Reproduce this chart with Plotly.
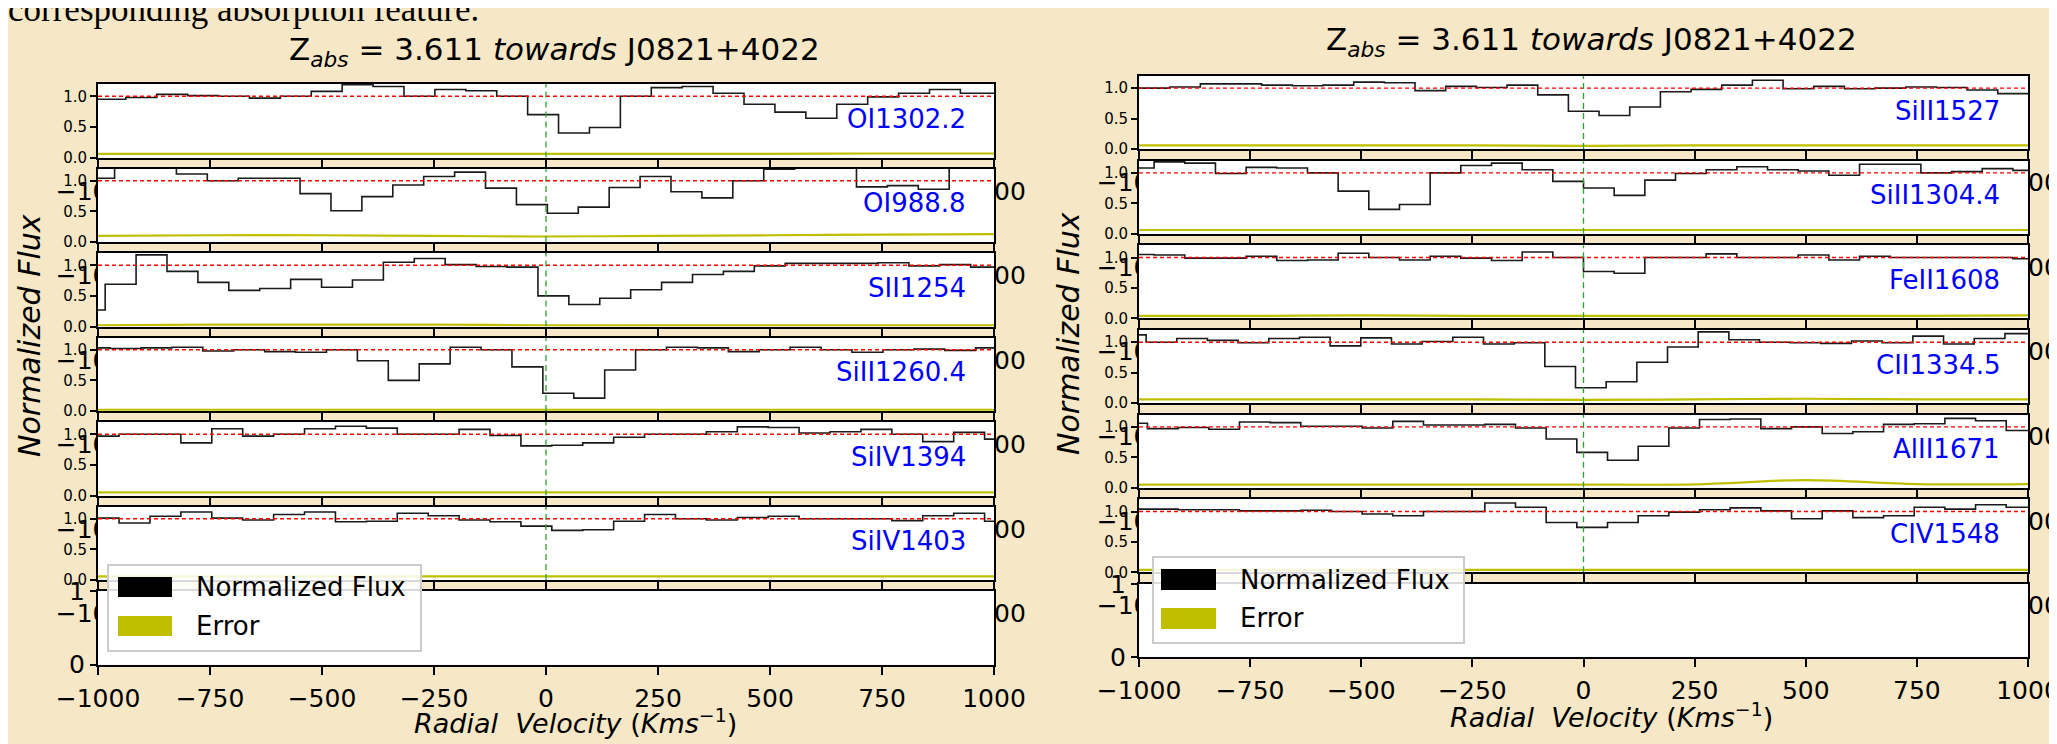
import plotly.graph_objects as go

W, H = 2057, 744
BG = "#f6e8c6"
FONT = "DejaVu Sans"
MINUS = "\u2212"

# ---------------- data ----------------
PIXEL_KMS = 69.0  # velocity width of one spectral pixel (km/s)

LEFT_LINES = ["OI1302.2", "OI988.8", "SII1254", "SiII1260.4", "SiIV1394", "SiIV1403"]
RIGHT_LINES = ["SiII1527", "SiII1304.4", "FeII1608", "CII1334.5", "AlII1671", "CIV1548"]

# velocity (km/s) of the first pixel edge in each panel
LEFT_FIRST_EDGE = [-1007, -1032, -1053, -1042, -1022, -1022]
RIGHT_FIRST_EDGE = [-1069, -1035, -1035, -1053, -1050, -1050]

flux_OI1302 = [0.95, 0.98, 1.03, 1.01, 1.00, 0.97, 1.00, 1.08, 1.19, 1.16, 1.00, 1.11, 1.09, 1.00, 0.70,
               0.40, 0.49, 1.00, 1.14, 1.16, 1.05, 0.87, 0.74, 0.64, 0.87, 0.99, 1.05, 1.11, 1.05, 1.05]
flux_OI988 = [1.04, 1.30, 1.30, 1.11, 1.00, 1.04, 1.04, 0.79, 0.51, 0.74, 0.93, 1.07, 1.14, 0.88, 0.61,
              0.47, 0.57, 0.89, 1.07, 0.82, 0.72, 1.00, 1.19, 1.30, 1.30, 0.90, 0.92, 0.86, 1.30, 1.30]
flux_SII1254 = [0.27, 0.69, 1.17, 0.90, 0.72, 0.59, 0.62, 0.77, 0.64, 0.76, 1.05, 1.11, 1.01, 0.98, 0.97,
                0.50, 0.36, 0.46, 0.60, 0.72, 0.85, 0.90, 0.99, 1.03, 1.03, 1.03, 1.04, 0.99, 1.01, 0.97]
flux_SiII1260 = [1.03, 1.02, 1.03, 1.04, 0.98, 1.00, 0.97, 0.96, 1.00, 0.82, 0.50, 0.77, 1.04, 1.00, 0.72,
                 0.29, 0.21, 0.67, 1.00, 1.04, 1.03, 0.97, 1.00, 1.04, 1.00, 0.96, 1.00, 1.01, 0.99, 1.03]
flux_SiIV1394 = [0.97, 1.00, 1.00, 0.86, 1.09, 0.97, 1.00, 1.09, 1.13, 1.10, 1.00, 1.00, 1.08, 0.98, 0.81,
                 0.82, 0.86, 0.95, 1.00, 1.00, 1.04, 1.12, 1.11, 1.02, 1.04, 1.08, 1.00, 0.88, 1.03, 0.92]
flux_SiIV1403 = [1.01, 0.93, 1.04, 1.11, 1.01, 0.98, 1.07, 1.11, 0.95, 0.96, 1.09, 1.05, 0.98, 0.95, 0.88,
                 0.81, 0.82, 0.96, 1.07, 1.00, 0.98, 1.02, 1.04, 1.00, 1.00, 1.00, 0.97, 1.05, 1.09, 0.96]

flux_SiII1527 = [1.00, 1.00, 1.02, 1.07, 1.07, 1.05, 1.04, 1.05, 1.10, 1.09, 0.96, 1.03, 1.01, 1.05, 0.89,
                 0.62, 0.55, 0.69, 0.94, 0.98, 1.05, 1.13, 0.99, 1.03, 0.99, 1.00, 1.02, 1.01, 0.97, 0.91, 0.91]
flux_SiII1304 = [1.08, 1.18, 1.16, 0.99, 1.09, 1.08, 1.00, 0.70, 0.40, 0.48, 1.00, 1.12, 1.16, 1.05, 0.86,
                 0.75, 0.63, 0.88, 0.99, 1.05, 1.10, 1.05, 1.03, 0.96, 1.14, 1.14, 1.00, 1.02, 1.07, 1.04]
flux_FeII1608 = [1.05, 1.04, 0.99, 0.99, 1.02, 0.95, 0.96, 1.07, 1.00, 0.96, 1.02, 0.99, 0.95, 1.09, 1.00,
                 0.77, 0.74, 1.00, 1.00, 1.06, 1.00, 1.00, 1.04, 0.96, 1.02, 1.00, 1.00, 1.00, 1.00, 0.98]
flux_CII1334 = [1.12, 1.00, 1.06, 1.03, 0.99, 1.06, 1.08, 0.94, 1.07, 0.97, 1.01, 1.08, 0.97, 0.99, 0.60,
                0.25, 0.35, 0.67, 0.92, 1.17, 1.04, 1.00, 0.99, 0.98, 1.02, 0.99, 1.10, 0.97, 1.06, 1.14]
flux_AlII1671 = [1.06, 0.97, 0.99, 0.96, 1.08, 1.07, 1.01, 1.01, 0.98, 1.09, 1.03, 1.03, 1.04, 0.98, 0.80,
                 0.58, 0.45, 0.68, 0.98, 1.12, 1.13, 0.97, 1.00, 0.89, 0.92, 1.04, 1.05, 1.14, 1.10, 0.94]
flux_CIV1548 = [1.04, 1.04, 1.03, 1.03, 1.01, 1.01, 1.02, 1.00, 0.96, 0.93, 1.00, 1.00, 1.14, 1.07, 0.82,
                0.74, 0.82, 0.93, 0.99, 1.03, 1.06, 1.01, 0.88, 1.01, 0.90, 0.93, 1.07, 1.04, 1.11, 1.07]

ERR_V = [-1000, -750, -500, -250, 0, 250, 500, 750, 1000]
err_OI1302 = [0.06, 0.06, 0.06, 0.06, 0.06, 0.06, 0.06, 0.065, 0.065]
err_OI988 = [0.10, 0.11, 0.11, 0.10, 0.09, 0.10, 0.11, 0.12, 0.13]
err_SII1254 = [0.02, 0.03, 0.03, 0.03, 0.02, 0.02, 0.02, 0.02, 0.02]
err_SiII1260 = [0.02, 0.02, 0.02, 0.02, 0.02, 0.02, 0.02, 0.02, 0.02]
err_SiIV1394 = [0.05, 0.05, 0.05, 0.05, 0.05, 0.05, 0.05, 0.05, 0.05]
err_SiIV1403 = [0.06, 0.06, 0.06, 0.06, 0.06, 0.06, 0.06, 0.06, 0.06]
err_SiII1527 = [0.06, 0.06, 0.06, 0.06, 0.05, 0.06, 0.06, 0.06, 0.06]
err_SiII1304 = [0.06, 0.06, 0.06, 0.06, 0.06, 0.06, 0.06, 0.06, 0.06]
err_FeII1608 = [0.04, 0.04, 0.05, 0.04, 0.04, 0.04, 0.04, 0.04, 0.05]
err_CII1334 = [0.06, 0.06, 0.06, 0.06, 0.05, 0.06, 0.07, 0.06, 0.06]
err_AlII1671 = [0.05, 0.05, 0.05, 0.05, 0.05, 0.055, 0.125, 0.06, 0.06]
err_CIV1548 = [0.04, 0.04, 0.04, 0.04, 0.04, 0.04, 0.04, 0.04, 0.04]

LEFT_FLUX = [flux_OI1302, flux_OI988, flux_SII1254, flux_SiII1260, flux_SiIV1394, flux_SiIV1403]
RIGHT_FLUX = [flux_SiII1527, flux_SiII1304, flux_FeII1608, flux_CII1334, flux_AlII1671, flux_CIV1548]
LEFT_ERR = [err_OI1302, err_OI988, err_SII1254, err_SiII1260, err_SiIV1394, err_SiIV1403]
RIGHT_ERR = [err_SiII1527, err_SiII1304, err_FeII1608, err_CII1334, err_AlII1671, err_CIV1548]

TICK_V = [-1000, -750, -500, -250, 0, 250, 500, 750, 1000]
TICK_TXT = [MINUS + "1000", MINUS + "750", MINUS + "500", MINUS + "250", "0", "250", "500", "750", "1000"]

TITLE = "Z<sub><i>abs</i></sub> = 3.611 <i>towards</i> J0821+4022"
XLABEL = "<i>Radial  Velocity</i> (<i>Kms</i><sup>" + MINUS + "1</sup>)"
YLABEL = "<i>Normalized Flux</i>"

# ---------------- layout geometry ----------------
def px(x):
    return x / W


def py(y):
    return 1 - y / H


COLUMNS = [
    dict(ids=[1, 2, 3, 4, 5, 6, 7], x0=90, x1=986, top0=76, pitch=84.5, h=73.5,
         lines=LEFT_LINES, edge0=LEFT_FIRST_EDGE, flux=LEFT_FLUX, err=LEFT_ERR,
         title=(546, 44), xlab=(567, 713), ylab=(21, 328),
         legend=dict(box=(100, 557, 413, 643), p1=(110, 569, 164, 589), p2=(110, 608, 164, 628),
                     tx=186, ty=(579, 618))),
    dict(ids=[10, 11, 12, 13, 14, 15, 16], x0=1131, x1=2020, top0=68, pitch=84.67, h=73,
         lines=RIGHT_LINES, edge0=RIGHT_FIRST_EDGE, flux=RIGHT_FLUX, err=RIGHT_ERR,
         title=(1583, 34), xlab=(1603, 707), ylab=(1060, 326),
         legend=dict(box=(1145, 549, 1456, 635), p1=(1153, 561, 1208, 582), p2=(1153, 600, 1208, 621),
                     tx=1230, ty=(572, 610))),
]


def aref(n, kind):
    return kind if n == 1 else f"{kind}{n}"


def aname(n, kind):
    return f"{kind}axis" if n == 1 else f"{kind}axis{n}"


fig = go.Figure()
layout_axes = {}
shapes = []
annotations = []

BLACK = "black"
ERR_COLOR = "#bfbf00"

for col in COLUMNS:
    for k, n in enumerate(col["ids"]):
        top = col["top0"] + col["pitch"] * k
        bottom = top + col["h"]
        empty = (k == 6)
        xr, yr = aref(n, "x"), aref(n, "y")
        yrange = [0, 1] if empty else [0, 1.2]

        layout_axes[aname(n, "x")] = dict(
            domain=[px(col["x0"]), px(col["x1"])], range=[-1000, 1000], anchor=yr,
            tickmode="array", tickvals=TICK_V, ticktext=TICK_TXT,
            ticks="outside", ticklen=8, tickwidth=1.5, tickcolor=BLACK,
            showline=True, linecolor=BLACK, linewidth=2, mirror=True,
            showgrid=False, zeroline=False, ticklabeloverflow="allow",
            ticklabelstandoff=2, automargin=False,
            tickfont=dict(family=FONT, size=25, color=BLACK), fixedrange=True,
        )
        layout_axes[aname(n, "y")] = dict(
            domain=[py(bottom), py(top)], range=yrange, anchor=xr,
            tickmode="array",
            tickvals=[0, 1] if empty else [0, 0.5, 1.0],
            ticktext=["0", "1"] if empty else ["0.0", "0.5", "1.0"],
            ticks="outside", ticklen=6, tickwidth=1.5, tickcolor=BLACK,
            showline=True, linecolor=BLACK, linewidth=2, mirror=True,
            showgrid=False, zeroline=False, ticklabeloverflow="allow", automargin=False,
            tickfont=dict(family=FONT, size=25 if empty else 15, color=BLACK), fixedrange=True,
        )
        # white face of this panel, drawn inside this panel's layer so it hides
        # the tick labels of the panel above (as in the original figure)
        shapes.append(dict(type="rect", xref=xr, yref=yr, x0=-1000, x1=1000,
                           y0=yrange[0], y1=yrange[1], fillcolor="white",
                           line=dict(width=0), layer="below"))
        if empty:
            continue

        flux = col["flux"][k]
        edges = [col["edge0"][k] + PIXEL_KMS * i for i in range(len(flux) + 1)]
        fig.add_trace(go.Scatter(
            x=edges, y=flux + [flux[-1]], mode="lines", line_shape="hv",
            line=dict(color="#1a1a1a", width=1.6), xaxis=xr, yaxis=yr,
            showlegend=False, hoverinfo="skip"))
        fig.add_trace(go.Scatter(
            x=ERR_V, y=col["err"][k], mode="lines", line_shape="spline",
            line=dict(color=ERR_COLOR, width=2.2), xaxis=xr, yaxis=yr,
            showlegend=False, hoverinfo="skip"))
        fig.add_trace(go.Scatter(
            x=[-1000, 1000], y=[1, 1], mode="lines",
            line=dict(color="red", width=1.4, dash="4px,3px"), xaxis=xr, yaxis=yr,
            showlegend=False, hoverinfo="skip"))
        fig.add_trace(go.Scatter(
            x=[0, 0], y=[0, 1.2], mode="lines",
            line=dict(color="#2ca02c", width=1.3, dash="6px,4px"), xaxis=xr, yaxis=yr,
            showlegend=False, hoverinfo="skip"))
        annotations.append(dict(
            text=col["lines"][k], xref=xr, yref=yr, x=942, y=0.63,
            xanchor="right", yanchor="middle", showarrow=False,
            font=dict(family=FONT, size=26, color="blue")))

    # titles and axis labels
    tx, ty = col["title"]
    annotations.append(dict(text=TITLE, xref="paper", yref="paper", x=px(tx), y=py(ty),
                            xanchor="center", yanchor="middle", showarrow=False,
                            font=dict(family=FONT, size=31, color=BLACK)))
    lx, ly = col["xlab"]
    annotations.append(dict(text=XLABEL, xref="paper", yref="paper", x=px(lx), y=py(ly),
                            xanchor="center", yanchor="middle", showarrow=False,
                            font=dict(family=FONT, size=27, color=BLACK)))
    yx, yy = col["ylab"]
    annotations.append(dict(text=YLABEL, xref="paper", yref="paper", x=px(yx), y=py(yy),
                            xanchor="center", yanchor="middle", showarrow=False, textangle=-90,
                            font=dict(family=FONT, size=30, color=BLACK)))

    # legend drawn as in matplotlib (patch handles)
    lg = col["legend"]
    bx0, by0, bx1, by1 = lg["box"]
    shapes.append(dict(type="rect", xref="paper", yref="paper", x0=px(bx0), x1=px(bx1),
                       y0=py(by1), y1=py(by0), fillcolor="rgba(255,255,255,0.85)",
                       line=dict(color="#cccccc", width=2), layer="above"))
    for (rx0, ry0, rx1, ry1), color in ((lg["p1"], BLACK), (lg["p2"], ERR_COLOR)):
        shapes.append(dict(type="rect", xref="paper", yref="paper", x0=px(rx0), x1=px(rx1),
                           y0=py(ry1), y1=py(ry0), fillcolor=color,
                           line=dict(width=0), layer="above"))
    for label, yc in zip(["Normalized Flux", "Error"], lg["ty"]):
        annotations.append(dict(text=label, xref="paper", yref="paper", x=px(lg["tx"]), y=py(yc),
                                xanchor="left", yanchor="middle", showarrow=False,
                                font=dict(family=FONT, size=26, color=BLACK)))

# slide text cut off at the top edge
annotations.append(dict(text="corresponding absorption feature.", xref="paper", yref="paper",
                        x=px(-2), y=py(23), xanchor="left", yanchor="bottom", showarrow=False,
                        font=dict(family="Liberation Serif", size=35, color=BLACK)))

fig.update_layout(
    width=W, height=H, autosize=False,
    margin=dict(l=0, r=0, t=0, b=0, pad=0, autoexpand=False),
    paper_bgcolor=BG, plot_bgcolor="white",
    showlegend=False,
    shapes=shapes, annotations=annotations,
    font=dict(family=FONT, color=BLACK),
    **layout_axes,
)

fig.write_html("out.html")
